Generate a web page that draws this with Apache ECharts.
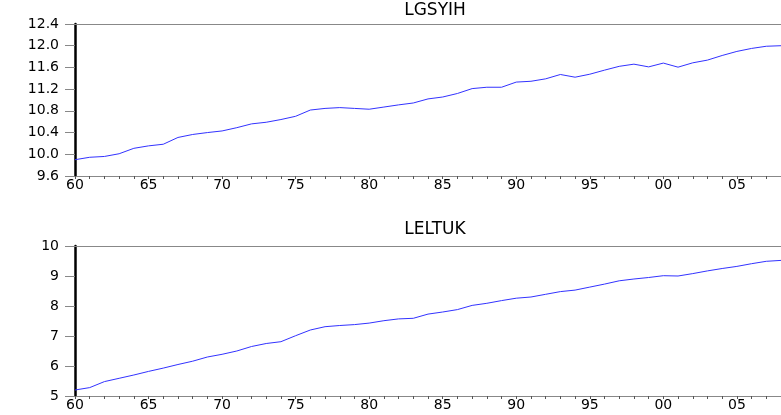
<!DOCTYPE html>
<html>
<head>
<meta charset="utf-8">
<script src="https://cdn.jsdelivr.net/npm/echarts@6/dist/echarts.min.js"></script>
<style>
html,body{margin:0;padding:0;background:#fff;}
#chart{width:781px;height:415px;}
</style>
</head>
<body>
<div id="chart"></div>
<script>
var years = [1960,1961,1962,1963,1964,1965,1966,1967,1968,1969,1970,1971,1972,1973,1974,1975,1976,1977,1978,1979,1980,1981,1982,1983,1984,1985,1986,1987,1988,1989,1990,1991,1992,1993,1994,1995,1996,1997,1998,1999,2000,2001,2002,2003,2004,2005,2006,2007,2008];
var lgsyih = [9.90,9.945,9.96,10.01,10.11,10.155,10.185,10.31,10.365,10.40,10.43,10.49,10.56,10.59,10.64,10.70,10.815,10.845,10.86,10.845,10.83,10.87,10.91,10.945,11.02,11.055,11.12,11.21,11.235,11.235,11.33,11.345,11.39,11.47,11.42,11.475,11.55,11.62,11.66,11.61,11.68,11.605,11.685,11.735,11.82,11.895,11.95,11.99,12.0];
var leltuk = [5.20,5.28,5.48,5.59,5.70,5.82,5.93,6.05,6.16,6.30,6.39,6.50,6.65,6.75,6.81,7.01,7.20,7.31,7.35,7.38,7.43,7.51,7.57,7.59,7.73,7.80,7.88,8.02,8.09,8.18,8.26,8.30,8.39,8.48,8.53,8.63,8.73,8.84,8.90,8.95,9.01,9.00,9.08,9.17,9.25,9.32,9.41,9.49,9.52];
var titles = ['LGSYIH','LELTUK'];

function pairs(vals){ return years.map(function(y,i){ return [y, vals[i]]; }); }

var font = 'DejaVu Sans';
function xAxis(idx){
  return {
    gridIndex: idx, type:'value', min:1960, max:2008, interval:1,
    splitLine:{show:false},
    axisLine:{show:true, lineStyle:{color:'#888', width:1}},
    axisTick:{show:true, length:3, lineStyle:{color:'#555', width:1}},
    axisLabel:{
      color:'#000', fontFamily:font, fontSize:14, margin:2,
      showMaxLabel:false,
      formatter:function(v){ if (v % 5 !== 0) return ''; var s = String(v % 100); return s.length<2 ? '0'+s : s; }
    }
  };
}
function topAxis(idx){
  return {
    gridIndex: idx, type:'value', position:'top', min:1960, max:2008,
    splitLine:{show:false}, axisTick:{show:false}, axisLabel:{show:false},
    axisLine:{show:true, lineStyle:{color:'#888', width:1}}
  };
}
function yAxis(idx, mn, mx, iv, dec){
  return {
    gridIndex: idx, type:'value', min:mn, max:mx, interval:iv,
    splitLine:{show:false},
    axisLine:{show:true, onZero:false, lineStyle:{color:'#000', width:2.5}},
    axisTick:{show:true, length:10, lineStyle:{color:'#888', width:1}},
    axisLabel:{color:'#000', fontFamily:font, fontSize:14, margin:16,
      formatter:function(v){ return v.toFixed(dec); }}
  };
}
var chart = echarts.init(document.getElementById('chart'));
chart.setOption({
  animation:false,
  backgroundColor:'#fff',
  title:[
    {text:titles[0], left:430, top:-3, textAlign:'center', textStyle:{fontFamily:font, fontSize:17, fontWeight:'normal', color:'#000'}},
    {text:titles[1], left:430, top:216, textAlign:'center', textStyle:{fontFamily:font, fontSize:17, fontWeight:'normal', color:'#000'}}
  ],
  grid:[
    {left:75, width:708, top:24, height:152, show:false},
    {left:75, width:708, top:246, height:150, show:false}
  ],
  xAxis:[xAxis(0), xAxis(1), topAxis(0), topAxis(1)],
  yAxis:[yAxis(0, 9.6, 12.4, 0.4, 1), yAxis(1, 5, 10, 1, 0)],
  series:[
    {type:'line', xAxisIndex:0, yAxisIndex:0, data:pairs(lgsyih), showSymbol:false, lineStyle:{color:'#3232ff', width:1}},
    {type:'line', xAxisIndex:1, yAxisIndex:1, data:pairs(leltuk), showSymbol:false, lineStyle:{color:'#3232ff', width:1}}
  ]
});
</script>
</body>
</html>
